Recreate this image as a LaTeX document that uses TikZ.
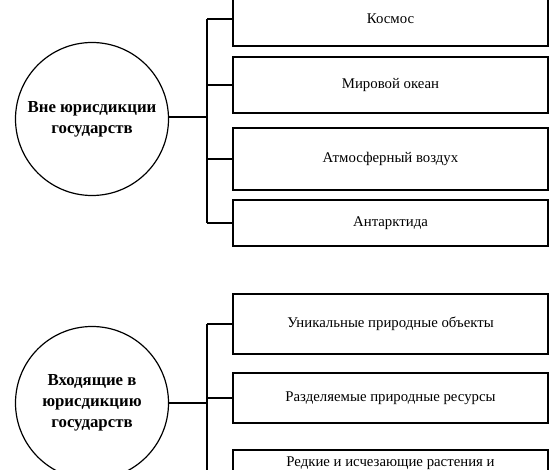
\documentclass[tikz,border=0pt]{standalone}
\usepackage{fontspec}
\setmainfont{Liberation Serif}
\begin{document}
\begin{tikzpicture}[x=1pt,y=-1pt,
  line width=1.2pt,
  box/.style={draw, rectangle, minimum width=315pt, inner sep=0pt, font=\fontsize{14.8}{18}\selectfont},
  circ/.style={draw, circle, minimum size=153pt, inner sep=0pt, align=center, font=\fontsize{16.8}{21}\selectfont\bfseries},
  conn/.style={line width=1.3pt}]
\useasboundingbox (0,0) rectangle (554,470);
\clip (0,0) rectangle (554,470);
% top group
\node[circ] (c1) at (92,119) {Вне юрисдикции\\государств};
\node[box, minimum height=54pt] (k1) at (390.5,19) {Космос};
\node[box, minimum height=56pt] (k2) at (390.5,85) {Мировой океан};
\node[box, minimum height=62pt] (k3) at (390.5,159) {Атмосферный воздух};
\node[box, minimum height=46pt] (k4) at (390.5,223) {Антарктида};
\coordinate (sp1) at (207,117);
\draw[conn] (c1.east |- sp1) -- (sp1);
\draw[conn] (k1.west -| sp1) -- (k4.west -| sp1);
\foreach \k in {k1,k2,k3,k4} \draw[conn] (\k.west -| sp1) -- (\k.west);
% bottom group
\node[circ] (c2) at (92,403) {Входящие в\\юрисдикцию\\государств};
\node[box, minimum height=60pt] (u1) at (390.5,324) {Уникальные природные объекты};
\node[box, minimum height=50pt] (u2) at (390.5,398) {Разделяемые природные ресурсы};
\node[box, minimum height=60pt] (u3) at (390.5,480) {};
\node[font=\fontsize{14.8}{18}\selectfont, inner sep=0pt] (u3t) at (390.5,463) {Редкие и исчезающие растения и};
\coordinate (sp2) at (207,403);
\coordinate (sp2end) at (207,480);
\draw[conn] (c2.east) -- (sp2);
\draw[conn] (u1.west -| sp2) -- (sp2end);
\foreach \k in {u1,u2,u3} \draw[conn] (\k.west -| sp2) -- (\k.west);
\end{tikzpicture}
\end{document}
